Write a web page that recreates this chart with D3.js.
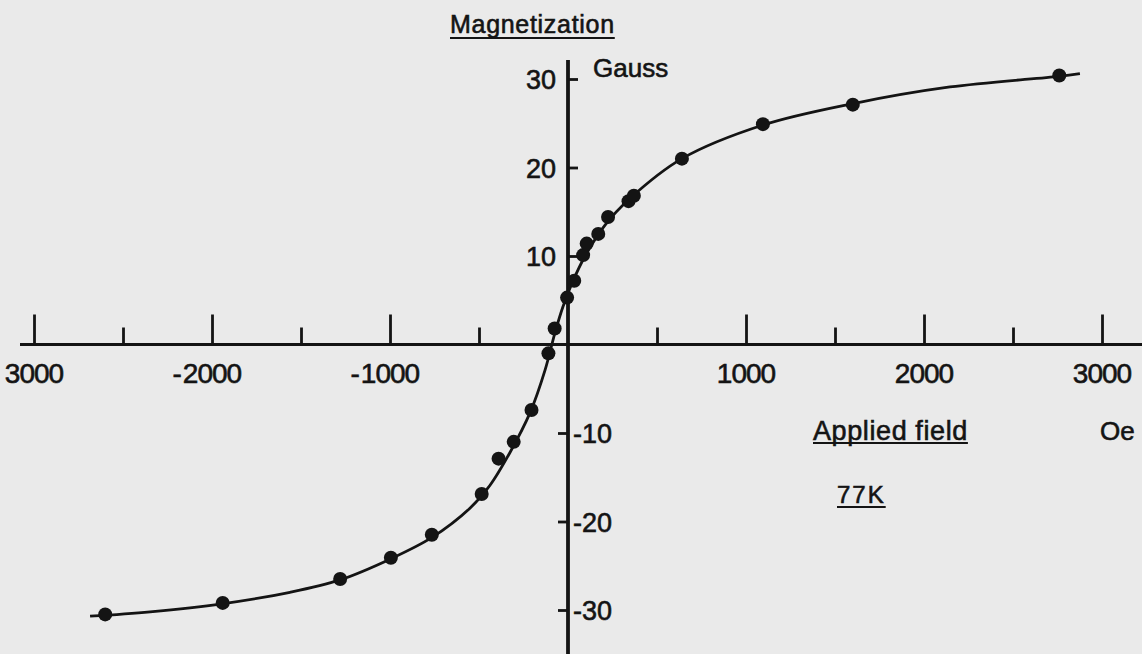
<!DOCTYPE html>
<html>
<head>
<meta charset="utf-8">
<script src="https://cdn.jsdelivr.net/npm/d3@7"></script>
<style>
  html, body { margin: 0; padding: 0; background: #eaeaea; }
  svg { display: block; }
  text { font-family: "Liberation Sans", Arial, sans-serif; fill: #141414; stroke: #141414; stroke-width: 0.6px; }
</style>
</head>
<body>
<svg id="chart" width="1142" height="654"></svg>
<script>
// Measured points: applied field (Oe) and magnetization (Gauss)
const fieldOe = [-2600, -1940, -1280, -995, -765, -485, -390, -305, -205, -110, -75, -5, 35, 85, 105, 170, 225, 340, 370, 640, 1095, 1600, 2760];
const magGauss = [-30.5, -29.2, -26.5, -24.1, -21.5, -16.9, -12.9, -11.0, -7.4, -1.0, 1.8, 5.3, 7.2, 10.1, 11.4, 12.5, 14.4, 16.2, 16.8, 21.0, 24.9, 27.1, 30.4];

// Hand-drawn fitted curve
const curveOe = [-2685, -2348, -1944, -1562, -1281, -994, -764, -551, -438, -326, -213, -129, -73, -28, 22, 96, 208, 348, 640, 1096, 1596, 2146, 2758, 2876];
const curveGauss = [-30.7, -30.2, -29.3, -28.0, -26.6, -24.2, -21.8, -18.5, -15.9, -12.2, -7.7, -2.9, 1.35, 4.3, 6.9, 10.0, 13.5, 16.5, 21.0, 24.8, 27.2, 29.1, 30.3, 30.6];

// Axis ticks
const xMajorTicks = [-3000, -2000, -1000, 1000, 2000, 3000];
const xMajorLabels = ["3000", "-2000", "-1000", "1000", "2000", "3000"];
const xMinorTicks = [-2500, -1500, -500, 500, 1500, 2500];
const yPosTicks = [10, 20, 30];
const yPosLabels = ["10", "20", "30"];
const yNegTicks = [-10, -20, -30];
const yNegLabels = ["-10", "-20", "-30"];

const svg = d3.select("#chart");
const W = 1142, H = 654;

const x = d3.scaleLinear().domain([-3000, 3000]).range([34, 1102]);
const y = d3.scaleLinear().domain([-30, 30]).range([610, 79]);
const x0 = x(0), y0 = y(0);

// X axis line
svg.append("line").attr("x1", 20).attr("x2", W).attr("y1", y0).attr("y2", y0)
  .attr("stroke", "#141414").attr("stroke-width", 3.2);
// Y axis line
svg.append("line").attr("x1", x0).attr("x2", x0).attr("y1", 60).attr("y2", H)
  .attr("stroke", "#141414").attr("stroke-width", 3.8);

// X ticks (upward) via d3 axes
const gxMaj = svg.append("g").attr("transform", `translate(0,${y0})`)
  .call(d3.axisTop(x).tickValues(xMajorTicks).tickSize(30).tickFormat(""));
const gxMin = svg.append("g").attr("transform", `translate(0,${y0})`)
  .call(d3.axisTop(x).tickValues(xMinorTicks).tickSize(17).tickFormat(""));
[gxMaj, gxMin].forEach(g => {
  g.select(".domain").remove();
  g.selectAll(".tick line").attr("stroke", "#141414").attr("stroke-width", 2.8);
});

// Y ticks: positive to the right, negative to the left
const gyPos = svg.append("g").attr("transform", `translate(${x0},0)`)
  .call(d3.axisRight(y).tickValues(yPosTicks).tickSize(10).tickFormat(""));
const gyNeg = svg.append("g").attr("transform", `translate(${x0},0)`)
  .call(d3.axisLeft(y).tickValues(yNegTicks).tickSize(10).tickFormat(""));
[gyPos, gyNeg].forEach(g => {
  g.select(".domain").remove();
  g.selectAll(".tick line").attr("stroke", "#141414").attr("stroke-width", 2.8);
});

// X tick labels: digits centred under the tick, minus sign hanging to the left
const xLabelSize = 28;
xMajorTicks.forEach((v, i) => {
  const lab = xMajorLabels[i];
  const neg = lab.startsWith("-");
  const digits = neg ? lab.slice(1) : lab;
  const t = svg.append("text").attr("x", x(v)).attr("y", 383)
    .attr("text-anchor", "middle").attr("font-size", xLabelSize)
    .attr("letter-spacing", -1).text(digits);
  if (neg) {
    const w = t.node().getComputedTextLength();
    svg.append("text").attr("x", x(v) - w / 2 - 1).attr("y", 383)
      .attr("text-anchor", "end").attr("font-size", xLabelSize).text("-");
  }
});

// Y tick labels
yPosTicks.forEach((v, i) => {
  svg.append("text").attr("x", x0 - 12).attr("y", y(v) + 10)
    .attr("text-anchor", "end").attr("font-size", 27).text(yPosLabels[i]);
});
yNegTicks.forEach((v, i) => {
  svg.append("text").attr("x", x0 + 5).attr("y", y(v) + 10)
    .attr("text-anchor", "start").attr("font-size", 27).text(yNegLabels[i]);
});

// Curve
const line = d3.line().x((d) => x(d[0])).y((d) => y(d[1])).curve(d3.curveCatmullRom.alpha(0.5));
svg.append("path").datum(curveOe.map((v, i) => [v, curveGauss[i]]))
  .attr("d", line).attr("fill", "none").attr("stroke", "#141414").attr("stroke-width", 2.8);

// Points
svg.append("g").selectAll("circle").data(fieldOe.map((v, i) => [v, magGauss[i]]))
  .join("circle").attr("cx", d => x(d[0])).attr("cy", d => y(d[1])).attr("r", 7)
  .attr("fill", "#141414");

// Labels with underlines
function underlined(txt, xPos, yBase, size, ls, ulY) {
  const t = svg.append("text").attr("x", xPos).attr("y", yBase).attr("font-size", size)
    .attr("letter-spacing", ls).text(txt);
  const w = t.node().getComputedTextLength();
  svg.append("line").attr("x1", xPos).attr("x2", xPos + w).attr("y1", ulY).attr("y2", ulY)
    .attr("stroke", "#141414").attr("stroke-width", 2.2);
}
underlined("Magnetization", 450, 33, 25, 0.7, 38);
svg.append("text").attr("x", 593).attr("y", 77).attr("font-size", 26).text("Gauss");
underlined("Applied field", 813, 440, 27, 0.6, 443);
svg.append("text").attr("x", 1100).attr("y", 440).attr("font-size", 26).text("Oe");
underlined("77K", 837, 503, 24, 2, 507);
</script>
</body>
</html>
